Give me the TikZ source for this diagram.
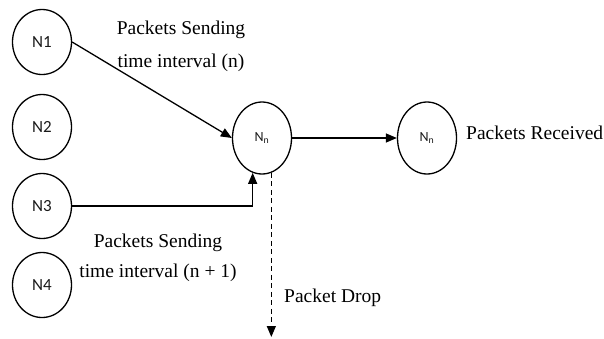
\documentclass[tikz,border=0pt]{standalone}
\usepackage{fontspec}
\setmainfont{Liberation Serif}
\newfontfamily\nodefont{Carlito}
\usetikzlibrary{arrows.meta,shapes.geometric}
\begin{document}
\begin{tikzpicture}[x=1pt,y=-1pt,
  nd/.style={draw, line width=1.3pt, ellipse, minimum width=59pt, minimum height=65pt, inner sep=0pt,
             font=\nodefont\fontsize{17}{20}\selectfont, text=black!90},
  ndn/.style={nd, minimum height=72pt, font=\nodefont\fontsize{14}{16}\selectfont},
  arr/.style={line width=1.3pt, -{Triangle[length=11pt,width=9pt]}},
  lbl/.style={font=\fontsize{19.5}{33}\selectfont, align=center, inner sep=0pt}
]
\useasboundingbox (0,0) rectangle (604,338);

\node[nd] (n1) at (42,42) {N1};
\node[nd] (n2) at (42,127) {N2};
\node[nd] (n3) at (42,206) {N3};
\node[nd] (n4) at (42,285) {N4};
\node[ndn] (nn) at (262,138) {N\textsubscript{n}};
\node[ndn] (nr) at (427,138) {N\textsubscript{n}};

\node[lbl] (la) at (181,46) {Packets Sending\\ time interval (n)};
\node[lbl, font=\fontsize{19.5}{30}\selectfont] (lb) at (158,258) {Packets Sending\\time interval (n + 1)};
\node[lbl, anchor=base west] (lr) at (466,139) {Packets Received};
\node[lbl, anchor=base west] (ld) at (284,302) {Packet Drop};

\coordinate (dropend) at (271,337);

\draw[arr] (n1.east) -- (nn.west);
\draw[arr] (n3.east) -| (nn.255);
\draw[arr] (nn.east) -- (nr.west);
\draw[arr, dash pattern=on 5pt off 3.5pt] (nn.285) -- (nn.285 |- dropend);
\end{tikzpicture}
\end{document}
